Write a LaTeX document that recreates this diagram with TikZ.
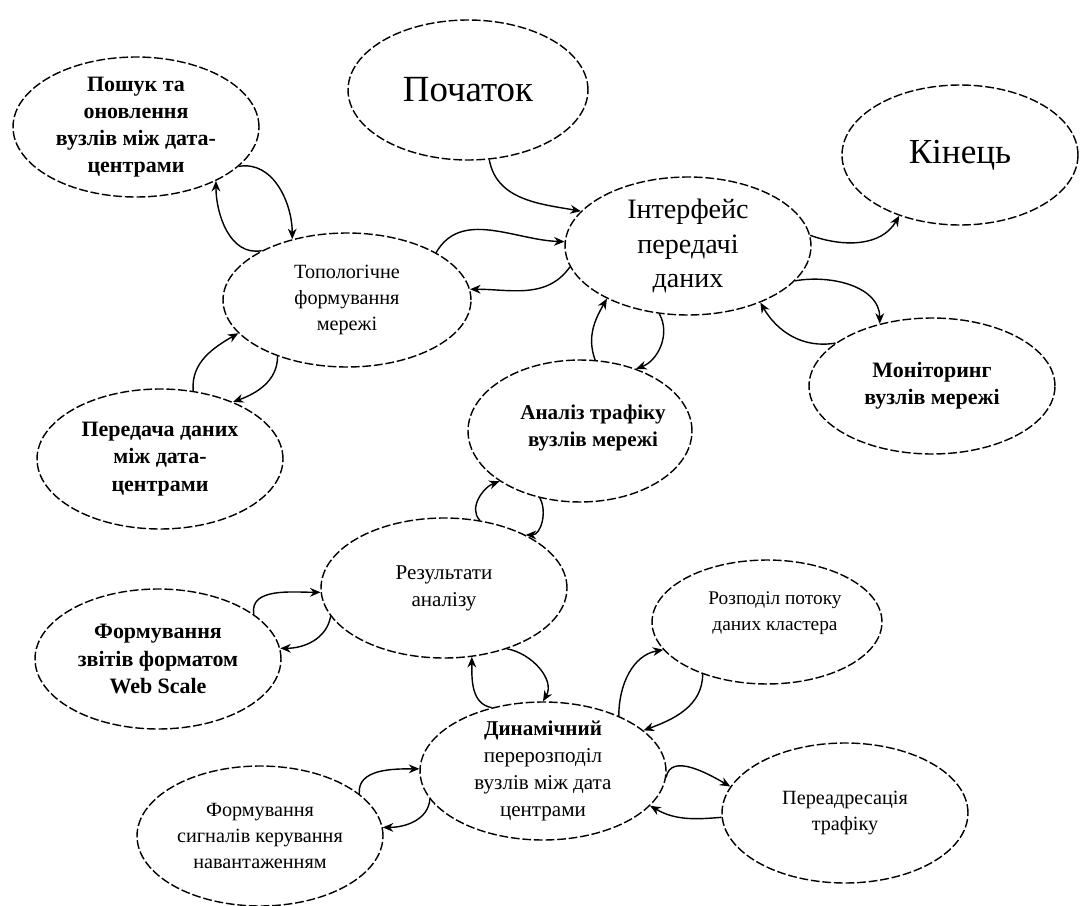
\documentclass[tikz,border=0pt]{standalone}
\usepackage{fontspec}
\setmainfont{Liberation Serif}
\usetikzlibrary{shapes.geometric}
\usetikzlibrary{arrows.meta}
\tikzset{
  bubble/.style={draw, ellipse, dash pattern=on 5pt off 1.6pt, line width=0.8pt,
    minimum width=4.92cm, minimum height=2.8cm, inner sep=0pt},
  txt/.style={align=center, font=\fontsize{12.5}{16}\selectfont},
  link/.style={-{Stealth[length=6pt,width=5pt]}, line width=0.8pt},
}

\begin{document}
\begin{tikzpicture}[x=0.02cm, y=-0.02cm]
	\useasboundingbox (0,0) rectangle (1080,906);
	% ellipses
	\node[bubble, minimum width=4.8cm] (pochatok) at (468,90) {};
	\node[bubble, minimum width=4.72cm] (kinets) at (960,155) {};
	\node[bubble, minimum height=2.76cm] (interf) at (688,246) {};
	\node[bubble] (poshuk) at (136,127) {};
	\node[bubble, minimum width=4.96cm, minimum height=2.68cm] (topol) at (347,300) {};
	\node[bubble] (peredacha) at (160,459) {};
	\node[bubble, minimum height=2.72cm] (monitor) at (932,386) {};
	\node[bubble, minimum width=4.48cm, minimum height=2.84cm] (analiz) at (580,431) {};
	\node[bubble] (result) at (444,588) {};
	\node[bubble] (zvity) at (158,659) {};
	\node[bubble, minimum width=4.6cm, minimum height=2.48cm] (rozpodil) at (767,622) {};
	\node[bubble, minimum height=2.76cm] (dynam) at (543,771) {};
	\node[bubble] (syhnaly) at (260,836) {};
	\node[bubble] (pereadr) at (845,813) {};
	% texts
	\node[txt, font=\fontsize{21}{24}\selectfont] at (pochatok) {Початок};
	\node[txt, font=\fontsize{20}{24}\selectfont] at (kinets) {Кінець};
	\node[txt, font=\fontsize{16}{19.5}\selectfont] at (interf) {Інтерфейс\\передачі\\даних};
	\node[txt, font=\bfseries\fontsize{12.5}{15.5}\selectfont] at (poshuk) {Пошук та\\оновлення\\вузлів між дата-\\центрами};
	\node[txt, font=\fontsize{11.5}{15}\selectfont] at (topol) {Топологічне\\формування\\мережі};
	\node[txt, font=\bfseries\fontsize{12.5}{15.5}\selectfont] at (peredacha) {Передача даних\\між дата-\\центрами};
	\node[txt, font=\bfseries\fontsize{12.5}{15.5}\selectfont] at (monitor) {Моніторинг\\вузлів мережі};
	\node[txt, font=\bfseries\fontsize{12}{15.5}\selectfont] at (593,428) {Аналіз трафіку\\вузлів мережі};
	\node[txt, font=\fontsize{12}{15.5}\selectfont] at (result) {Результати\\аналізу};
	\node[txt, font=\bfseries\fontsize{12.5}{15.5}\selectfont] at (zvity) {Формування\\звітів форматом\\Web Scale};
	\node[txt, font=\fontsize{11}{14.5}\selectfont] at (775,613) {Розподіл потоку\\даних кластера};
	\node[txt, font=\fontsize{12}{15.3}\selectfont] at (dynam) {\textbf{Динамічний}\\перерозподіл\\вузлів між дата\\центрами};
	\node[txt, font=\fontsize{11.5}{15}\selectfont] at (syhnaly) {Формування\\сигналів керування\\навантаженням};
	\node[txt, font=\fontsize{11.5}{15}\selectfont] at (pereadr) {Переадресація\\трафіку};
	% arrows
	\draw[link] (pochatok.-73) to[out=-80, in=170] (interf.162);
	\draw[link] (topol.28) to[out=60, in=178] (interf.178);
	\draw[link] (interf.190) to[out=235, in=0] (topol.5);
	\draw[link] (interf.5) to[out=-20, in=240] (kinets.225);
	\draw[link] (interf.-18) to[out=10, in=90] (monitor.130);
	\draw[link] (monitor.156) to[out=190, in=-60] (interf.-38);
	\draw[link] (analiz.78) to[out=110, in=240] (interf.213);
	\draw[link] (interf.247) to[out=-60, in=20] (analiz.48);
	\draw[link] (poshuk.-21) to[out=10, in=90] (topol.132);
	\draw[link] (topol.150) to[out=190, in=-90] (poshuk.-34);
	\draw[link] (peredacha.64) to[out=95, in=210] (topol.197);
	\draw[link] (topol.219) to[out=-90, in=20] (peredacha.38);
	\draw[link] (result.62) to[out=135, in=200] (analiz.212);
	\draw[link] (analiz.239) to[out=-60, in=0] (result.33);
	\draw[link] (zvity.25) to[out=100, in=180] (result.182);
	\draw[link] (result.194) to[out=-100, in=0] (zvity.5);
	\draw[link] (dynam.129) to[out=170, in=-90] (result.-68);
	\draw[link] (result.-44) to[out=-10, in=60] (dynam.90);
	\draw[link] (dynam.36) to[out=90, in=190] (rozpodil.195);
	\draw[link] (rozpodil.219) to[out=-90, in=20] (dynam.22);
	\draw[link] (dynam.-3) to[out=80, in=150] (pereadr.167);
	\draw[link] (pereadr.182) to[out=185, in=-30] (dynam.-18);
	\draw[link] (dynam.194) to[out=-95, in=0] (syhnaly.4);
	\draw[link] (syhnaly.23) to[out=95, in=180] (dynam.179);
\end{tikzpicture}
\end{document}
